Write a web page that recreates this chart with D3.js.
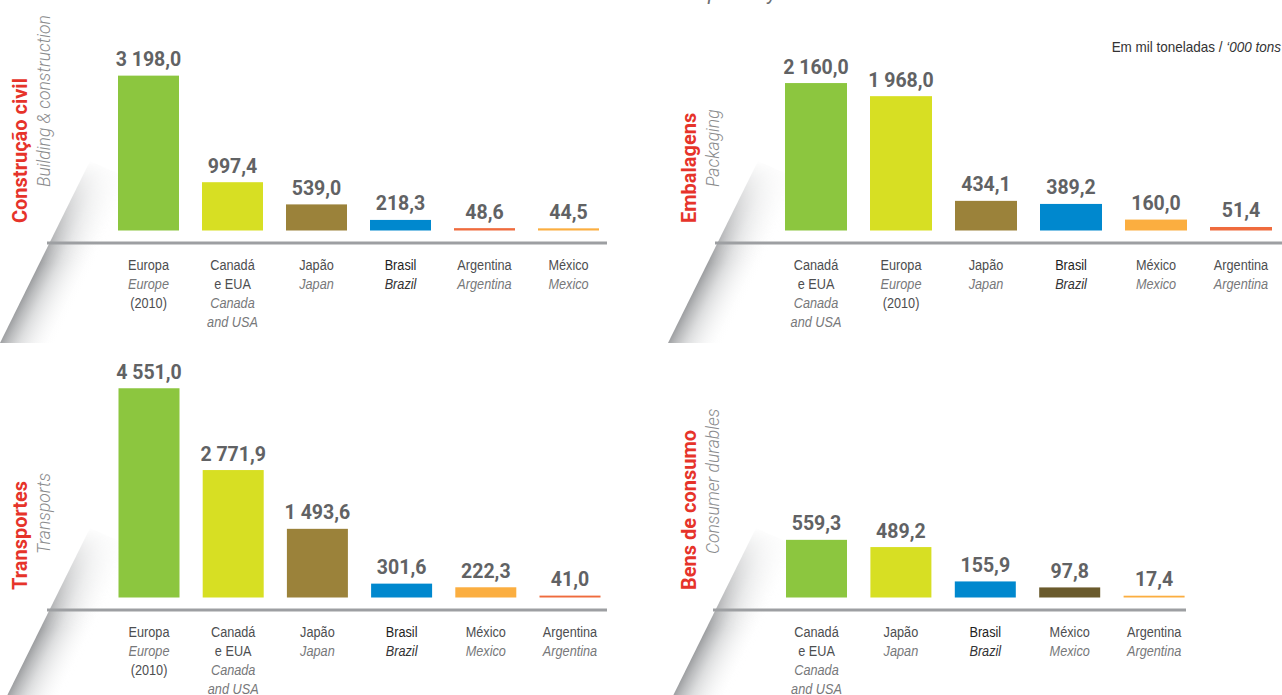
<!DOCTYPE html>
<html>
<head>
<meta charset="utf-8">
<script src="https://cdn.jsdelivr.net/npm/d3@7"></script>
<style>
  body { margin: 0; background: #fff; }
  svg { display: block; }
</style>
</head>
<body>
<div id="chart"></div>
<script>
// Data
const construcaoCountries = ["Europa", "Canadá e EUA", "Japão", "Brasil", "Argentina", "México"];
const construcaoValues = [3198.0, 997.4, 539.0, 218.3, 48.6, 44.5];

const embalagensCountries = ["Canadá e EUA", "Europa", "Japão", "Brasil", "México", "Argentina"];
const embalagensValues = [2160.0, 1968.0, 434.1, 389.2, 160.0, 51.4];

const transportesCountries = ["Europa", "Canadá e EUA", "Japão", "Brasil", "México", "Argentina"];
const transportesValues = [4551.0, 2771.9, 1493.6, 301.6, 222.3, 41.0];

const bensCountries = ["Canadá e EUA", "Japão", "Brasil", "México", "Argentina"];
const bensValues = [559.3, 489.2, 155.9, 97.8, 17.4];

// label lines under each bar: [text, italic]
const countryLines = {
    "Europa": [["Europa", 0], ["Europe", 1], ["(2010)", 0]],
    "Canadá e EUA": [["Canadá", 0], ["e EUA", 0], ["Canada", 1], ["and USA", 1]],
    "Japão": [["Japão", 0], ["Japan", 1]],
    "Brasil": [["Brasil", 0], ["Brazil", 1]],
    "Argentina": [["Argentina", 0], ["Argentina", 1]],
    "México": [["México", 0], ["Mexico", 1]]
};

// Colours
const palette = {
    green: "#8cc63f", lime: "#d7df23", olive: "#9b823a", blue: "#0088ce",
    red: "#ef6b3d", orange: "#fbae40", brown: "#6a5a2c"
};
const construcaoColors = ["green", "lime", "olive", "blue", "red", "orange"];
const embalagensColors = ["green", "lime", "olive", "blue", "orange", "red"];
const transportesColors = ["green", "lime", "olive", "blue", "orange", "red"];
const bensColors = ["green", "lime", "blue", "brown", "orange"];

const W = 1282, H = 695;
// no condensed face installed, so Liberation Sans is squeezed horizontally
const narrow = "'Liberation Sans', Arial, sans-serif";
const squeeze = 0.82;

// Panel layout (each panel has its own value scale, as in the original)
const panels = [
    { countries: construcaoCountries, values: construcaoValues, colors: construcaoColors,
      title: "Construção civil", sub: "Building & construction",
      ax0: 47, ax1: 607, axisY: 243, barX: 118, step: 84, barW: 61, yMax: 4130, titleX: 27, subX: 50 },
    { countries: embalagensCountries, values: embalagensValues, colors: embalagensColors,
      title: "Embalagens", sub: "Packaging",
      ax0: 715, ax1: 1282, axisY: 243, barX: 785, step: 85, barW: 62, yMax: 2930, titleX: 696, subX: 719 },
    { countries: transportesCountries, values: transportesValues, colors: transportesColors,
      title: "Transportes", sub: "Transports",
      ax0: 47, ax1: 607, axisY: 610, barX: 118.5, step: 84.2, barW: 61, yMax: 4350, titleX: 27, subX: 50 },
    { countries: bensCountries, values: bensValues, colors: bensColors,
      title: "Bens de consumo", sub: "Consumer durables",
      ax0: 713, ax1: 1186, axisY: 610, barX: 786, step: 84.4, barW: 61, yMax: 1940, titleX: 696, subX: 719 }
];

const fmt = v => d3.format(",.1f")(v).replace(/,/g, " ").replace(".", ",");

const svg = d3.select("#chart").append("svg")
    .attr("width", W)
    .attr("height", H);

// Gradients for the page-curl shadows
const defs = svg.append("defs");
const shadeGrad = defs.append("linearGradient")
    .attr("id", "shade")
    .attr("gradientUnits", "userSpaceOnUse")
    .attr("x1", -2).attr("y1", 10)
    .attr("x2", 42).attr("y2", 32);
shadeGrad.append("stop").attr("offset", 0).attr("stop-color", "#7d7f82").attr("stop-opacity", 0.75);
shadeGrad.append("stop").attr("offset", 0.35).attr("stop-color", "#b4b6b8").attr("stop-opacity", 0.45);
shadeGrad.append("stop").attr("offset", 1).attr("stop-color", "#ffffff").attr("stop-opacity", 0);

const fadeGrad = defs.append("linearGradient")
    .attr("id", "fade")
    .attr("gradientUnits", "userSpaceOnUse")
    .attr("x1", 0).attr("y1", -82)
    .attr("x2", 0).attr("y2", 20);
fadeGrad.append("stop").attr("offset", 0).attr("stop-color", "#fff").attr("stop-opacity", 0);
fadeGrad.append("stop").attr("offset", 1).attr("stop-color", "#fff").attr("stop-opacity", 1);

defs.append("mask")
    .attr("id", "fadeMask")
    .attr("maskUnits", "userSpaceOnUse")
    .attr("x", -100).attr("y", -100).attr("width", 250).attr("height", 220)
    .append("rect")
    .attr("x", -100).attr("y", -100).attr("width", 250).attr("height", 220)
    .attr("fill", "url(#fade)");

// Cut-off heading at the very top
svg.append("text")
    .attr("x", 636)
    .attr("y", 0)
    .style("font-family", "Roboto, sans-serif")
    .style("font-style", "italic")
    .style("font-size", "20px")
    .attr("fill", "#6d6e71")
    .text("Consumption by sector");

// Unit note
const unit = svg.append("text")
    .attr("transform", `translate(1281,52) scale(0.9,1)`)
    .attr("text-anchor", "end")
    .style("font-family", narrow)
    .style("font-size", "15px")
    .attr("fill", "#333");
unit.append("tspan").text("Em mil toneladas / ");
unit.append("tspan").style("font-style", "italic").text("‘000 tons");

panels.forEach(p => {
    const g = svg.append("g");
    const bottom = p.axisY - 12.5;
    const pad = 1 - p.barW / p.step;
    const r0 = p.barX - p.step * pad / 2;

    const x = d3.scaleBand()
        .domain(p.countries)
        .range([r0, r0 + p.countries.length * p.step])
        .paddingInner(pad)
        .paddingOuter(pad / 2);

    const y = d3.scaleLinear()
        .domain([0, p.yMax])
        .range([bottom, bottom - 200]);

    const rows = p.countries.map((c, i) => ({ country: c, value: p.values[i], color: palette[p.colors[i]] }));

    // shadow wedge
    g.append("path")
        .attr("transform", `translate(${p.ax0},${p.axisY})`)
        .attr("d", "M43,-82 L-47,100 L10,100 L92,-60 Z")
        .attr("fill", "url(#shade)")
        .attr("mask", "url(#fadeMask)");

    // axis line
    g.append("line")
        .attr("x1", p.ax0).attr("x2", p.ax1)
        .attr("y1", p.axisY).attr("y2", p.axisY)
        .attr("stroke", "#9d9fa2")
        .attr("stroke-width", 3);

    // bars
    g.selectAll(".bar")
        .data(rows)
        .enter()
        .append("rect")
        .attr("class", "bar")
        .attr("x", d => x(d.country))
        .attr("width", x.bandwidth())
        .attr("y", d => y(d.value))
        .attr("height", d => bottom - y(d.value))
        .attr("fill", d => d.color);

    // value labels
    g.selectAll(".value")
        .data(rows)
        .enter()
        .append("text")
        .attr("class", "value")
        .attr("x", d => x(d.country) + x.bandwidth() / 2)
        .attr("y", d => y(d.value) - 9.5)
        .attr("text-anchor", "middle")
        .style("font-family", "Roboto, sans-serif")
        .style("font-weight", 700)
        .style("font-size", "19.5px")
        .attr("fill", "#616264")
        .text(d => fmt(d.value));

    // category labels
    const cat = g.selectAll(".cat")
        .data(rows)
        .enter()
        .append("text")
        .attr("class", "cat")
        .attr("transform", d => `translate(${x(d.country) + x.bandwidth() / 2},0) scale(${squeeze},1)`)
        .attr("text-anchor", "middle")
        .style("font-family", narrow)
        .style("font-size", "15.5px");

    cat.selectAll("tspan")
        .data(d => countryLines[d.country].map(l => ({ t: l[0], it: l[1], c: d.country })))
        .enter()
        .append("tspan")
        .attr("x", 0)
        .attr("y", (d, i) => p.axisY + 27 + i * 19)
        .style("font-style", d => d.it ? "italic" : "normal")
        .attr("fill", d => d.c === "Brasil" ? (d.it ? "#333335" : "#1f1f1f") : (d.it ? "#77787a" : "#4d4e50"))
        .text(d => d.t);

    // panel titles
    g.append("text")
        .attr("transform", `translate(${p.titleX},${p.axisY - 20}) rotate(-90)`)
        .style("font-family", "Roboto, sans-serif")
        .style("font-weight", 700)
        .style("font-size", "20px")
        .attr("fill", "#e6332a")
        .text(p.title);

    g.append("text")
        .attr("transform", `translate(${p.subX},${p.axisY - 56}) rotate(-90)`)
        .style("font-family", "Roboto, sans-serif")
        .style("font-weight", 300)
        .style("font-style", "italic")
        .style("font-size", "17.5px")
        .attr("fill", "#8a8b8d")
        .text(p.sub);
});
</script>
</body>
</html>
